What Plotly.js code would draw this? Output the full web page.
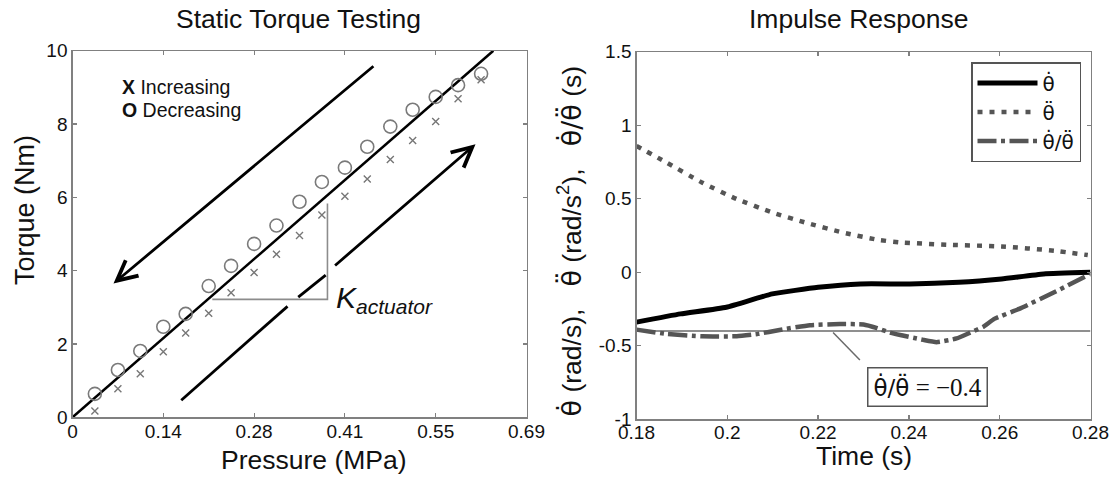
<!DOCTYPE html>
<html><head><meta charset="utf-8">
<script src="https://cdn.plot.ly/plotly-3.0.1.min.js"></script>
<style>html,body{margin:0;padding:0;background:#fff;}#chart{width:1115px;height:485px;}</style>
</head><body><div id="chart"></div>
<script>
// ---------- Left panel: Static Torque Testing ----------
const pressure = [0.034, 0.069, 0.103, 0.138, 0.172, 0.207, 0.241, 0.276, 0.310, 0.345, 0.379, 0.414, 0.448, 0.483, 0.517, 0.552, 0.586, 0.621];
const torqueIncreasing = [0.17, 0.78, 1.19, 1.79, 2.30, 2.84, 3.40, 3.95, 4.45, 4.96, 5.52, 6.03, 6.50, 7.03, 7.55, 8.07, 8.69, 9.21];
const torqueDecreasing = [0.64, 1.29, 1.81, 2.47, 2.82, 3.58, 4.13, 4.73, 5.23, 5.88, 6.42, 6.81, 7.38, 7.93, 8.39, 8.74, 9.06, 9.37];
const fitPressure = [0, 0.6396];
const fitTorque = [0, 10];
const triangleX = [0.2125, 0.3875, 0.3875];
const triangleY = [3.217, 3.217, 5.83];
const downArrowTail = [0.4596, 9.61];
const downArrowHead = [0.0623, 3.65];
const upArrowSegAX = [0.1653, 0.3268];
const upArrowSegAY = [0.467, 3.025];
const upArrowSegBX = [0.3431, 0.3848];
const upArrowSegBY = [3.28, 3.877];
const upArrowTail = [0.3968, 4.106];
const upArrowHead = [0.6125, 7.45];
const pressureTickVals = [0, 0.138, 0.276, 0.414, 0.552, 0.69];
const pressureTickText = ['0', '0.14', '0.28', '0.41', '0.55', '0.69'];
const torqueTickVals = [0, 2, 4, 6, 8, 10];

// ---------- Right panel: Impulse Response ----------
const timeVel = [0.18, 0.1897, 0.1998, 0.2099, 0.22, 0.2293, 0.2402, 0.251, 0.2604, 0.2697, 0.28];
const thetaDot = [-0.339, -0.283, -0.2375, -0.147, -0.102, -0.079, -0.079, -0.068, -0.045, -0.011, 0];
const timeAcc = [0.18, 0.1866, 0.1944, 0.2021, 0.2099, 0.2176, 0.2254, 0.2332, 0.2378, 0.2487, 0.2604, 0.272, 0.2794];
const thetaDDot = [0.86, 0.747, 0.611, 0.498, 0.407, 0.335, 0.271, 0.221, 0.204, 0.187, 0.176, 0.147, 0.117];
const timeRatio = [0.18, 0.1866, 0.1944, 0.2021, 0.2068, 0.2115, 0.2182, 0.2248, 0.23, 0.233, 0.2358, 0.2432, 0.2461, 0.2505, 0.2535, 0.2564, 0.2588, 0.2643, 0.272, 0.28];
const ratio = [-0.39, -0.419, -0.435, -0.435, -0.419, -0.392, -0.36, -0.352, -0.355, -0.38, -0.41, -0.46, -0.475, -0.45, -0.41, -0.37, -0.317, -0.249, -0.136, -0.011];
const refRatio = -0.4;
const refBoxPos = [0.244, -0.778];
const leaderX = [0.2233, 0.2292];
const leaderY = [-0.41, -0.597];
const timeTickVals = [0.18, 0.2, 0.22, 0.24, 0.26, 0.28];
const timeTickText = ['0.18', '0.2', '0.22', '0.24', '0.26', '0.28'];
const respTickVals = [-1, -0.5, 0, 0.5, 1, 1.5];
const respTickText = ['-1', '-0.5', '0', '0.5', '1', '1.5'];

const W = 1115, H = 485;
const px = v => v / W, py = v => 1 - v / H;
const SANS = 'Liberation Sans, Arial, sans-serif';
const THETA = 'DejaVu Sans, sans-serif';
const SERIF = 'Liberation Serif, serif';
const GRAY = '#555555';
const FRAME = '#808080';
const th = (s, size) => '<span style="font-family:' + THETA + (size ? ';font-size:' + size + 'px' : '') + '">' + s + '</span>';
const TD = 'θ\u0307', TDD = 'θ\u0308';

const traces = [
  {x: fitPressure, y: fitTorque, mode: 'lines', line: {color: '#000', width: 2.5}, showlegend: false, xaxis: 'x', yaxis: 'y', hoverinfo: 'skip'},
  {x: triangleX, y: triangleY, mode: 'lines', line: {color: '#8c8c8c', width: 1.6}, showlegend: false, xaxis: 'x', yaxis: 'y', hoverinfo: 'skip'},
  {x: upArrowSegAX, y: upArrowSegAY, mode: 'lines', line: {color: '#000', width: 2.8}, showlegend: false, xaxis: 'x', yaxis: 'y', hoverinfo: 'skip'},
  {x: upArrowSegBX, y: upArrowSegBY, mode: 'lines', line: {color: '#000', width: 2.8}, showlegend: false, xaxis: 'x', yaxis: 'y', hoverinfo: 'skip'},
  {x: pressure, y: torqueIncreasing, mode: 'markers', name: 'Increasing', showlegend: false, xaxis: 'x', yaxis: 'y',
   marker: {symbol: 'x-thin-open', size: 7, color: '#777', line: {color: '#777', width: 1.4}}},
  {x: pressure, y: torqueDecreasing, mode: 'markers', name: 'Decreasing', showlegend: false, xaxis: 'x', yaxis: 'y',
   marker: {symbol: 'circle-open', size: 13, color: '#7a7a7a', line: {color: '#7a7a7a', width: 1.6}}},
  {x: [0.18, 0.28], y: [refRatio, refRatio], mode: 'lines', line: {color: '#6a6a6a', width: 1.5}, showlegend: false, xaxis: 'x2', yaxis: 'y2', hoverinfo: 'skip'},
  {x: leaderX, y: leaderY, mode: 'lines', line: {color: '#6a6a6a', width: 1.5}, showlegend: false, xaxis: 'x2', yaxis: 'y2', hoverinfo: 'skip'},
  {x: timeVel, y: thetaDot, mode: 'lines', name: TD, xaxis: 'x2', yaxis: 'y2',
   line: {color: '#000', width: 5, shape: 'spline', smoothing: 0.4}},
  {x: timeAcc, y: thetaDDot, mode: 'lines', name: TDD, xaxis: 'x2', yaxis: 'y2',
   line: {color: GRAY, width: 4.5, dash: '5px,7px', shape: 'spline', smoothing: 0.5}},
  {x: timeRatio, y: ratio, mode: 'lines', name: TD + '/' + TDD, xaxis: 'x2', yaxis: 'y2',
   line: {color: GRAY, width: 4.5, dash: '19px,4.5px,4px,4.5px', shape: 'spline', smoothing: 0.4}}
];

const axisCommon = {
  showline: true, linecolor: FRAME, linewidth: 1.2, mirror: 'ticks', ticks: 'inside', ticklen: 4,
  tickcolor: FRAME, tickwidth: 1.2, showgrid: false, zeroline: false,
  tickfont: {family: SANS, size: 19, color: '#111'}, fixedrange: true
};

const ann = (text, x, y, size, extra) => Object.assign({
  text: text, x: x, y: y, xref: 'paper', yref: 'paper', showarrow: false,
  font: {family: SANS, size: size, color: '#111'}, xanchor: 'center', yanchor: 'middle'
}, extra || {});

const annotations = [
  ann('Static Torque Testing', px(298), py(19.5), 26.5),
  ann('Impulse Response', px(858), py(19.5), 26.5),
  ann('Pressure (MPa)', px(314), py(460), 26.5),
  ann('Time (s)', px(863.5), py(456), 26.5),
  ann('Torque (Nm)', px(24.5), py(210.5), 27, {textangle: -90}),
  ann(th(TD, 27) + ' (rad/s),\u00a0\u00a0\u00a0' + th(TDD, 27) + ' (rad/s<sup>2</sup>),\u00a0\u00a0\u00a0' + th(TD + '/' + TDD, 27) + ' (s)',
      px(569), py(241.5), 26.5, {textangle: -90}),
  ann('<b>X</b> Increasing', px(120), py(87), 19.5, {xanchor: 'left'}),
  ann('<b>O</b> Decreasing', px(120), py(110), 19.5, {xanchor: 'left'}),
  {text: '<i>K<sub>actuator</sub></i>', x: 0.3974, y: 3.2, xref: 'x', yref: 'y', showarrow: false,
   xanchor: 'left', yanchor: 'middle', font: {family: SANS, size: 30, color: '#111'}},
  {text: '', x: downArrowHead[0], y: downArrowHead[1], ax: downArrowTail[0], ay: downArrowTail[1],
   xref: 'x', yref: 'y', axref: 'x', ayref: 'y', showarrow: true, arrowhead: 5, arrowsize: 1.4,
   arrowwidth: 2.8, arrowcolor: '#000', standoff: 0, startstandoff: 0},
  {text: '', x: upArrowHead[0], y: upArrowHead[1], ax: upArrowTail[0], ay: upArrowTail[1],
   xref: 'x', yref: 'y', axref: 'x', ayref: 'y', showarrow: true, arrowhead: 5, arrowsize: 1.4,
   arrowwidth: 2.8, arrowcolor: '#000', standoff: 0, startstandoff: 0},
  {text: th(TD + '/' + TDD, 23) + ' = \u22120.4', x: refBoxPos[0], y: refBoxPos[1], xref: 'x2', yref: 'y2',
   showarrow: false, font: {family: SERIF, size: 25, color: '#111'}, bordercolor: '#555', borderwidth: 1.5,
   borderpad: 5, bgcolor: '#fff'}
];

const layout = {
  width: W, height: H, autosize: false,
  margin: {l: 0, r: 0, t: 0, b: 0, pad: 0},
  paper_bgcolor: '#fff', plot_bgcolor: '#fff',
  showlegend: true,
  legend: {x: px(971), y: py(62), xanchor: 'left', yanchor: 'top', bgcolor: '#fff',
           bordercolor: '#555', borderwidth: 1.5, font: {family: THETA, size: 20, color: '#111'},
           itemwidth: 60, traceorder: 'normal'},
  xaxis: Object.assign({}, axisCommon, {domain: [px(72.5), px(526.5)], range: [0, 0.69],
          tickmode: 'array', tickvals: pressureTickVals, ticktext: pressureTickText, anchor: 'y', ticklabelstandoff: -3}),
  yaxis: Object.assign({}, axisCommon, {domain: [py(417.3), py(50.7)], range: [0, 10],
          tickmode: 'array', tickvals: torqueTickVals, anchor: 'x'}),
  xaxis2: Object.assign({}, axisCommon, {domain: [px(636.5), px(1090.5)], range: [0.18, 0.28],
          tickmode: 'array', tickvals: timeTickVals, ticktext: timeTickText, anchor: 'y2', ticklabelstandoff: -4}),
  yaxis2: Object.assign({}, axisCommon, {domain: [py(419.3), py(51.8)], range: [-1, 1.5],
          tickmode: 'array', tickvals: respTickVals, ticktext: respTickText, anchor: 'x2'}),
  annotations: annotations
};

Plotly.newPlot('chart', traces, layout, {displayModeBar: false, staticPlot: true});
</script>
</body></html>
